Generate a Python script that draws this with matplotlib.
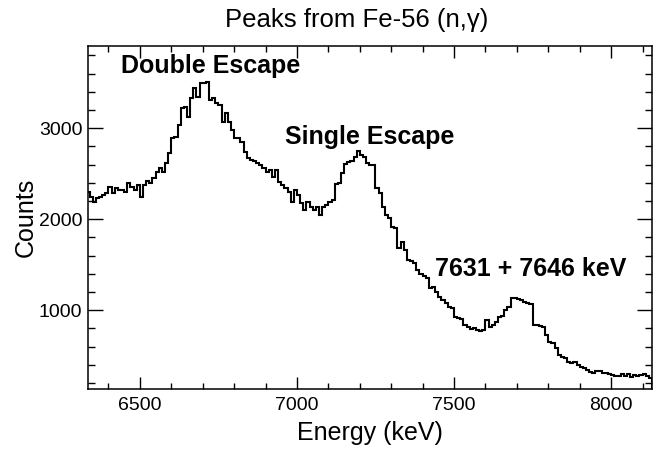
import numpy as np
import matplotlib
matplotlib.use("Agg")
import matplotlib.pyplot as plt
from matplotlib.ticker import MultipleLocator

plt.rcParams['font.family'] = ['Liberation Sans', 'DejaVu Sans']

# Histogram: 10 keV bins starting at 6330 keV
bin_start = 6330
bin_width = 10
counts = [
    2304, 2249, 2194, 2231, 2249, 2267, 2286, 2359, 2286, 2341,
    2322, 2322, 2304, 2396, 2359, 2322, 2377, 2249, 2377, 2421,
    2396, 2451, 2516, 2560, 2524, 2615, 2725, 2890, 2908, 3037,
    3220, 3238, 3128, 3330, 3440, 3348, 3495, 3495, 3513, 3311,
    3330, 3275, 3256, 3073, 3165, 3073, 2982, 2890, 2890, 2853,
    2744, 2670, 2652, 2641, 2615, 2597, 2560, 2524, 2542, 2469,
    2542, 2414, 2377, 2341, 2304, 2194, 2322, 2267, 2176, 2103,
    2194, 2139, 2103, 2139, 2048, 2139, 2158, 2194, 2212, 2385,
    2396, 2505, 2604, 2626, 2641, 2689, 2751, 2707, 2689, 2615,
    2597, 2597, 2348, 2285, 2139, 2047, 2011, 1919, 1901, 1681,
    1754, 1663, 1553, 1542, 1516, 1443, 1395, 1381, 1359, 1241,
    1260, 1205, 1150, 1113, 1077, 1040, 1029, 930, 912, 904,
    838, 820, 795, 809, 784, 773, 784, 893, 820, 838,
    875, 930, 941, 1003, 1040, 1132, 1132, 1121, 1113, 1095,
    1077, 1066, 838, 838, 831, 820, 729, 655, 637, 589,
    509, 491, 479, 436, 417, 436, 399, 381, 362, 344,
    326, 315, 333, 333, 315, 307, 296, 289, 282, 282,
    296, 282, 296, 271, 289, 282, 289, 296, 282, 256,
]

title = "Peaks from Fe-56 (n,\u03b3)"
xlabel = "Energy (keV)"
ylabel = "Counts"
annotations = [
    ("Double Escape", 6440, 3604),
    ("Single Escape", 6961, 2827),
    ("7631 + 7646 keV", 7438, 1377),
]
xlim = (6335, 8130)
ylim = (135, 3904)

W, H = 658, 449
fig = plt.figure(figsize=(W / 100, H / 100), dpi=100)
ax = fig.add_axes([88 / W, 1 - 389 / H, (652 - 88) / W, (389 - 46) / H])

edges = bin_start + bin_width * np.arange(len(counts) + 1)
ax.stairs(counts, edges, color='black', linewidth=1.5)

ax.set_xlim(*xlim)
ax.set_ylim(*ylim)

ax.xaxis.set_major_locator(MultipleLocator(500))
ax.xaxis.set_minor_locator(MultipleLocator(100))
ax.yaxis.set_major_locator(MultipleLocator(1000))
ax.yaxis.set_minor_locator(MultipleLocator(200))

ax.tick_params(axis='both', which='both', direction='in', top=True, right=True,
               labelsize=14, width=1.0, color='black')
ax.tick_params(axis='x', which='major', length=8.5, pad=6)
ax.tick_params(axis='x', which='minor', length=4.3)
ax.tick_params(axis='y', which='major', length=10.5, pad=4)
ax.tick_params(axis='y', which='minor', length=5.3)
for s in ax.spines.values():
    s.set_linewidth(1.1)

ax.set_xlabel(xlabel, fontsize=18)
ax.xaxis.set_label_coords(0.5, -0.092)
ax.set_ylabel(ylabel, fontsize=18)
ax.yaxis.set_label_coords(-0.089, 0.5)

fig.text(357 / W, 1 - 27 / H, title, fontsize=18.5, ha='center', va='baseline')

for txt, x, y in annotations:
    ax.text(x, y, txt, fontsize=18, fontweight='bold', ha='left', va='baseline')

fig.savefig("out.png", dpi=100)
